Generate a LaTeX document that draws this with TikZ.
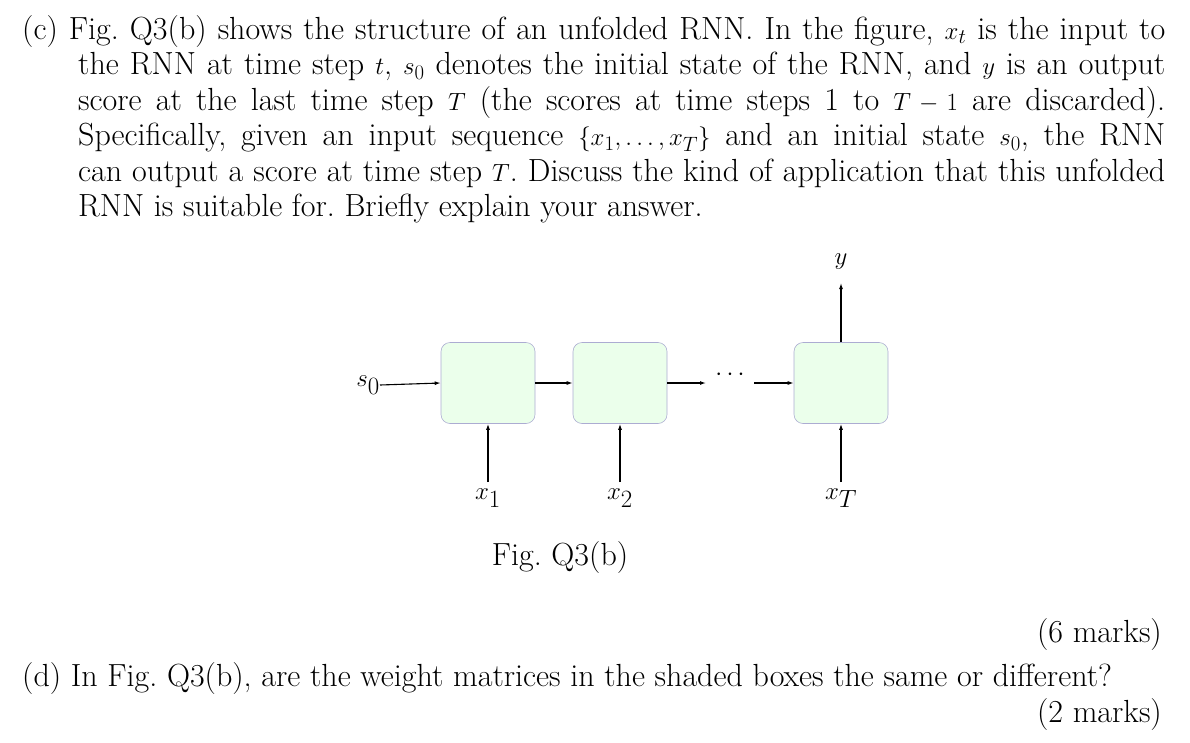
\documentclass[tikz,border=0pt]{standalone}
\usetikzlibrary{arrows.meta}
\begin{document}
\frenchspacing
\begin{tikzpicture}[x=1pt,y=-1pt,
  txt/.style={anchor=base west,inner sep=0pt,font=\fontsize{32}{38}\selectfont},
  cell/.style={draw=gray!70!blue!50,line width=0.6pt,fill=green!8!white,rounded corners=9pt,minimum width=94pt,minimum height=81pt,inner sep=0pt},
  lab/.style={inner sep=0pt,font=\fontsize{34}{40}\selectfont},
  arr/.style={-{Latex[length=6pt,width=4pt]},line width=1.1pt}]
\useasboundingbox (0,0) rectangle (1190,742);
\node[txt] (l1) at (22,39) {\hbox to 1143pt{(c) Fig. Q3(b) shows the structure of an unfolded RNN. In the figure, $x_t$ is the input to}};
\node[txt] (l2) at (78,74.5) {\hbox to 1087pt{the RNN at time step $t$, $s_0$ denotes the initial state of the RNN, and $y$ is an output}};
\node[txt] (l3) at (78,110) {\hbox to 1087pt{score at the last time step $T$ (the scores at time steps 1 to $T-1$ are discarded).}};
\node[txt] (l4) at (78,145.5) {\hbox to 1087pt{Specifically, given an input sequence $\{x_1,\ldots,x_T\}$ and an initial state $s_0$, the RNN}};
\node[txt] (l5) at (78,181) {\hbox to 1087pt{can output a score at time step $T$. Discuss the kind of application that this unfolded}};
\node[txt] (l6) at (78,216.5) {RNN is suitable for. Briefly explain your answer.};
\node[cell] (c1) at (488,383) {};
\node[cell] (c2) at (620,383) {};
\node[cell] (c3) at (841,383) {};
\node[lab,anchor=east] (s0) at (380,385) {$s_0$};
\node[lab] (dots) at (730,375) {$\cdots$};
\coordinate (d1) at (706,383);
\coordinate (d2) at (754,383);
\node[lab] (x1) at (488,498) {$x_1$};
\node[lab] (x2) at (620,498) {$x_2$};
\node[lab] (xT) at (841,498) {$x_T$};
\node[lab] (y) at (841,262) {$y$};
\coordinate (b1) at (488,482);
\coordinate (b2) at (620,482);
\coordinate (b3) at (841,482);
\coordinate (yt) at (841,283);
\draw[arr] (s0.east) -- (c1.west);
\draw[arr] (c1.east) -- (c2.west);
\draw[arr] (c2.east) -- (d1);
\draw[arr] (d2) -- (c3.west);
\draw[arr] (b1) -- (c1.south);
\draw[arr] (b2) -- (c2.south);
\draw[arr] (b3) -- (c3.south);
\draw[arr] (c3.north) -- (yt);
\node[txt,anchor=base] (fig) at (560,565) {Fig. Q3(b)};
\node[txt,anchor=base east] (m6) at (1162,642) {(6 marks)};
\node[txt] (dd) at (22,686) {(d) In Fig. Q3(b), are the weight matrices in the shaded boxes the same or different?};
\node[txt,anchor=base east] (m2) at (1162,722) {(2 marks)};
\end{tikzpicture}
\end{document}
